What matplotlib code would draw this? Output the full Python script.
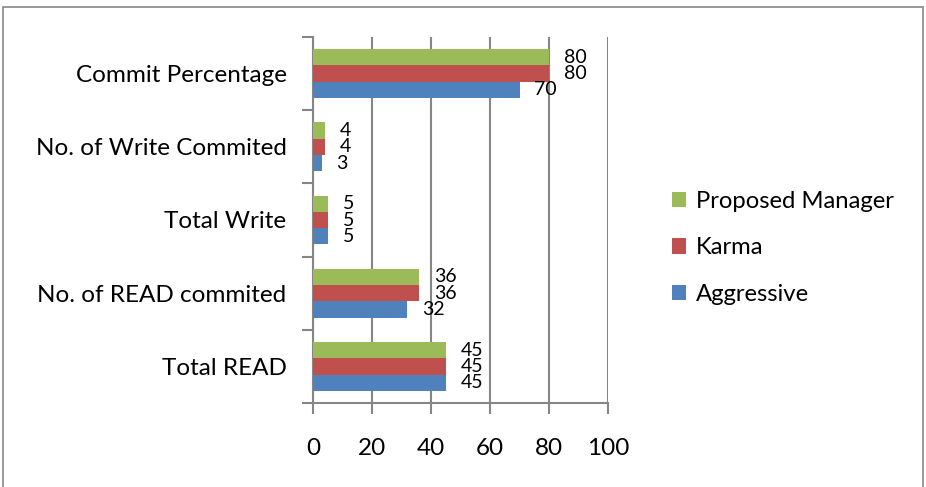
import matplotlib
matplotlib.use("Agg")
import matplotlib.pyplot as plt
from matplotlib.patches import Rectangle
import numpy as np

categories = ["Total READ", "No. of READ commited", "Total Write",
              "No. of Write Commited", "Commit Percentage"]
aggressive = [45, 32, 5, 3, 70]
karma = [45, 36, 5, 4, 80]
proposed = [45, 36, 5, 4, 80]
series_names = ["Aggressive", "Karma", "Proposed Manager"]
colors = ["#4F81BD", "#C0504D", "#9BBB59"]
x_ticks = [0, 20, 40, 60, 80, 100]

plt.rcParams["font.family"] = ["Lato", "DejaVu Sans"]

W, H = 926, 487
fig = plt.figure(figsize=(W / 100, H / 100), dpi=100)
fig.patch.set_facecolor("white")

# outer chart frame
fig.patches.append(Rectangle((3 / W, -0.05), 920 / W, 1 - 7 / H + 0.05,
                             transform=fig.transFigure, fill=False,
                             edgecolor="#868686", linewidth=1.2))

ax = fig.add_axes([313 / W, 1 - 403 / H, 295 / W, 366 / H])

grid_c = "#868686"
y = np.arange(len(categories))
h = 0.222
for i, (vals, name, c) in enumerate(zip([aggressive, karma, proposed], series_names, colors)):
    off = (i - 1) * h
    ax.barh(y + off, vals, height=h, color=c, label=name, zorder=3)
    for yy, v in zip(y + off, vals):
        ax.text(v + 5, yy, str(v), va="center", ha="left", fontsize=14,
                color="black", zorder=4)

ax.set_xlim(0, 100)
ax.set_ylim(-0.5, len(categories) - 0.5)
ax.set_xticks(x_ticks)
ax.set_xticklabels([str(t) for t in x_ticks], fontsize=17.5)
ax.set_yticks(y)
ax.set_yticklabels(categories, fontsize=17.5)
ax.tick_params(axis="y", length=0, pad=19)
ax.tick_params(axis="x", length=8, width=1.5, color=grid_c, pad=17)
ax.set_yticks(np.arange(-0.5, len(categories), 1), minor=True)
ax.tick_params(axis="y", which="minor", length=8, width=1.5, color=grid_c)

ax.grid(axis="x", color=grid_c, linewidth=1.5, zorder=0)
for s in ["top", "right"]:
    ax.spines[s].set_visible(False)
for s in ["left", "bottom"]:
    ax.spines[s].set_color(grid_c)
    ax.spines[s].set_linewidth(1.5)

handles, labels = ax.get_legend_handles_labels()
leg = fig.legend(handles[::-1], labels[::-1], loc="center left",
                 bbox_to_anchor=(672 / W, 1 - 248 / H), frameon=False,
                 fontsize=17.2, handlelength=0.6, handleheight=0.6,
                 handletextpad=0.4, labelspacing=1.08,
                 borderpad=0, borderaxespad=0)

fig.savefig("out.png", dpi=100)
